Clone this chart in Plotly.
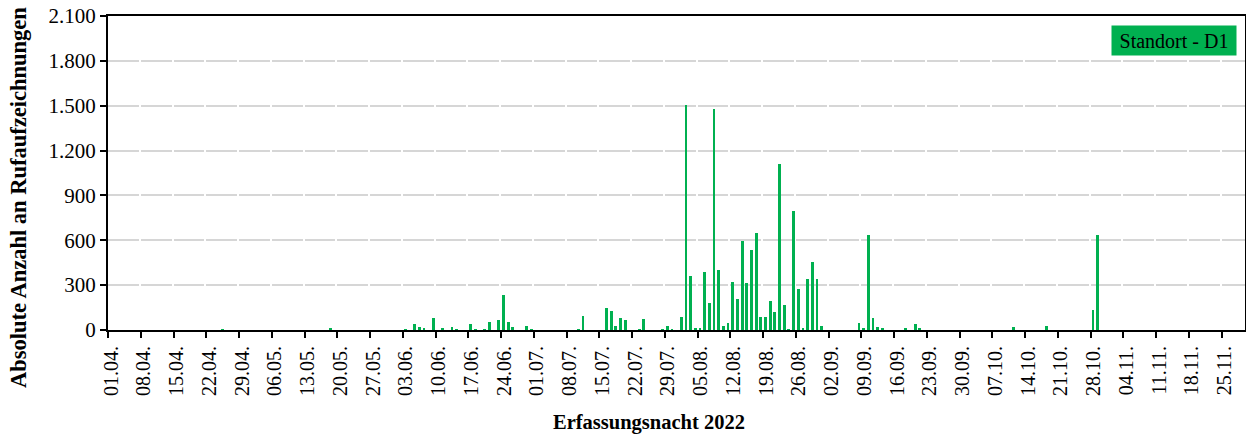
import plotly.graph_objects as go

# ---- data ----
nights = [
    "2022-04-25", "2022-05-18",
    "2022-06-03", "2022-06-05", "2022-06-06", "2022-06-07", "2022-06-09", "2022-06-11",
    "2022-06-13", "2022-06-14", "2022-06-17", "2022-06-18", "2022-06-20", "2022-06-21",
    "2022-06-23", "2022-06-24", "2022-06-25", "2022-06-26", "2022-06-29", "2022-06-30",
    "2022-07-10", "2022-07-11", "2022-07-16", "2022-07-17", "2022-07-18", "2022-07-19",
    "2022-07-20", "2022-07-23", "2022-07-24", "2022-07-28", "2022-07-29", "2022-07-30",
    "2022-08-01", "2022-08-02", "2022-08-03", "2022-08-04", "2022-08-05", "2022-08-06",
    "2022-08-07", "2022-08-08", "2022-08-09", "2022-08-10", "2022-08-11", "2022-08-12",
    "2022-08-13", "2022-08-14", "2022-08-15", "2022-08-16", "2022-08-17", "2022-08-18",
    "2022-08-19", "2022-08-20", "2022-08-21", "2022-08-22", "2022-08-23", "2022-08-24",
    "2022-08-25", "2022-08-26", "2022-08-27", "2022-08-28", "2022-08-29", "2022-08-30",
    "2022-08-31",
    "2022-09-08", "2022-09-09", "2022-09-10", "2022-09-11", "2022-09-12", "2022-09-13",
    "2022-09-18", "2022-09-20", "2022-09-21",
    "2022-10-11", "2022-10-18", "2022-10-28", "2022-10-29",
]
calls = [
    3, 13,
    3, 38, 22, 9, 78, 10,
    20, 3, 42, 4, 3, 53,
    69, 232, 54, 21, 26, 2,
    4, 91, 150, 127, 26, 79,
    69, 2, 73, 4, 29, 5,
    87, 1508, 363, 8, 16, 391,
    182, 1480, 401, 24, 45, 323,
    205, 596, 312, 535, 646, 89,
    86, 196, 120, 1109, 169, 4,
    797, 274, 13, 343, 452, 341,
    27,
    49, 16, 637, 82, 22, 9,
    16, 38, 9,
    20, 29, 137, 636,
]
series_name = "Standort - D1"
y_ticks = [0, 300, 600, 900, 1200, 1500, 1800, 2100]
y_ticktext = ["0", "300", "600", "900", "1.200", "1.500", "1.800", "2.100"]
x_title = "Erfassungsnacht 2022"
y_title = "Absolute Anzahl an Rufaufzeichnungen"

GREEN = "#00B050"
FONT = "Liberation Serif"

W, H = 1246, 436
ML, MR, MT, MB = 108, 1, 16, 106
PW, PH = W - ML - MR, H - MT - MB


def px(x):
    return (x - ML) / PW


def py(y):
    return (H - MB - y) / PH


fig = go.Figure()
fig.add_trace(go.Bar(
    x=nights, y=calls, name=series_name,
    marker=dict(color=GREEN, line=dict(width=0)),
    xperiod=86400000, xperiodalignment="middle",
    width=0.6 * 86400000,
    showlegend=False,
))

fig.update_layout(
    width=W, height=H,
    margin=dict(l=ML, r=MR, t=MT, b=MB, pad=0),
    paper_bgcolor="white", plot_bgcolor="white",
    font=dict(family=FONT, color="black", size=20),
    bargap=0,
    xaxis=dict(
        type="date",
        range=["2022-03-31 23:00", "2022-11-30 00:00"],
        tick0="2022-04-01", dtick=7 * 86400000,
        tickformat="%d.%m.", tickangle=-90,
        ticks="outside", ticklen=6, tickwidth=2, tickcolor="black",
        tickfont=dict(family=FONT, size=20, color="black"),
        ticklabelshift=3,
        showline=True, linecolor="black", linewidth=2, mirror=True,
        showgrid=False, zeroline=False, automargin=False,
    ),
    yaxis=dict(
        range=[0, 2100],
        tickvals=y_ticks, ticktext=y_ticktext,
        ticks="outside", ticklen=6, tickwidth=2, tickcolor="black",
        tickfont=dict(family=FONT, size=21, color="black"),
        showline=True, linecolor="black", linewidth=2, mirror=True,
        showgrid=True, gridcolor="#D6D6D6", gridwidth=1.5,
        griddash="30.75px,2px",
        zeroline=False, automargin=False,
    ),
    annotations=[
        dict(text="<b>" + x_title + "</b>", xref="paper", yref="paper",
             x=px(649), y=py(422), xanchor="center", yanchor="middle",
             showarrow=False, font=dict(family=FONT, size=20.5, color="black")),
        dict(text="<b>" + y_title + "</b>", xref="paper", yref="paper",
             x=px(18), y=py(198), xanchor="center", yanchor="middle",
             textangle=-90, showarrow=False,
             font=dict(family=FONT, size=22.5, color="black")),
        dict(text=series_name, xref="paper", yref="paper",
             x=px(1237), y=py(25), xanchor="right", yanchor="top",
             showarrow=False, bgcolor=GREEN, width=120, height=25,
             borderpad=2, align="center",
             font=dict(family=FONT, size=20, color="black")),
    ],
)

fig.write_html(
    "out.html",
    config={"displayModeBar": False},
    post_script="document.body.style.margin='0';document.body.style.overflow='hidden';",
)
